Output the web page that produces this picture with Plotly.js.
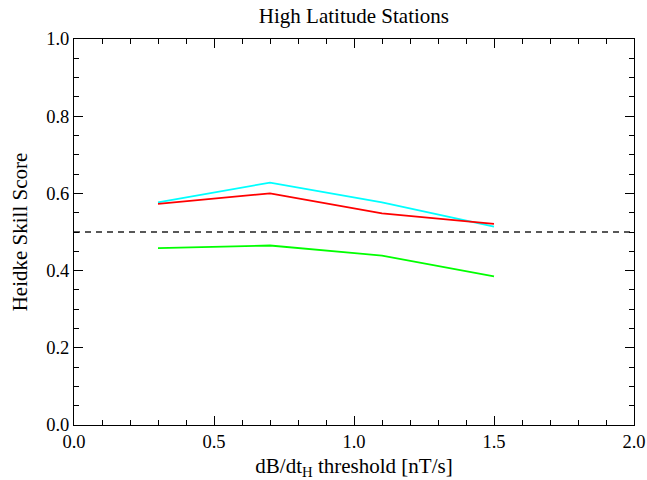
<!DOCTYPE html>
<html>
<head>
<meta charset="utf-8">
<script src="https://cdn.plot.ly/plotly-3.0.1.min.js"></script>
<style>html,body{margin:0;padding:0;background:#fff;}#chart{width:647px;height:480px;}</style>
</head>
<body>
<div id="chart"></div>
<script>
const thresholds = [0.3, 0.7, 1.1, 1.5];
const cyanSeries = [0.577, 0.628, 0.577, 0.514];
const redSeries = [0.573, 0.600, 0.548, 0.521];
const greenSeries = [0.458, 0.465, 0.439, 0.385];
const refX = [0, 2];
const refY = [0.5, 0.5];

const font = {family: '"Liberation Serif", "Times New Roman", Times, serif', color: '#000'};

const traces = [
  {x: refX, y: refY, mode: 'lines', line: {color: '#222', width: 1.3, dash: '6px,5px'}, hoverinfo: 'skip'},
  {x: thresholds, y: cyanSeries, mode: 'lines', line: {color: '#00ffff', width: 1.8}},
  {x: thresholds, y: redSeries, mode: 'lines', line: {color: '#ff0000', width: 1.8}},
  {x: thresholds, y: greenSeries, mode: 'lines', line: {color: '#00ff00', width: 1.8}}
];

const axisCommon = {
  showgrid: false, zeroline: false, showline: true, linecolor: '#000', linewidth: 1,
  mirror: 'allticks', ticks: 'inside', ticklen: 9, tickcolor: '#000', tickwidth: 1,
  tickfont: Object.assign({size: 18.5}, font)
};

const layout = {
  width: 647, height: 480,
  margin: {l: 74, r: 13, t: 39, b: 55},
  paper_bgcolor: '#fff', plot_bgcolor: '#fff',
  showlegend: false,
  font: font,
  title: {text: 'High Latitude Stations', font: Object.assign({size: 21}, font), x: 0.547, xanchor: 'center', y: 0.968, yanchor: 'middle'},
  xaxis: Object.assign({}, axisCommon, {
    range: [0, 2], tick0: 0, dtick: 0.5, tickformat: '.1f',
    minor: {dtick: 0.1, ticks: 'inside', ticklen: 5, tickcolor: '#000', tickwidth: 1},
    title: {text: 'dB/dt<sub>H</sub> threshold [nT/s]', font: Object.assign({size: 21}, font), standoff: 8}
  }),
  yaxis: Object.assign({}, axisCommon, {
    range: [0, 1], tick0: 0, dtick: 0.2, tickformat: '.1f',
    minor: {dtick: 0.05, ticks: 'inside', ticklen: 5, tickcolor: '#000', tickwidth: 1},
    title: {text: 'Heidke Skill Score', font: Object.assign({size: 21}, font), standoff: 12}
  })
};

Plotly.newPlot('chart', traces, layout, {staticPlot: true, displayModeBar: false});
</script>
</body>
</html>
